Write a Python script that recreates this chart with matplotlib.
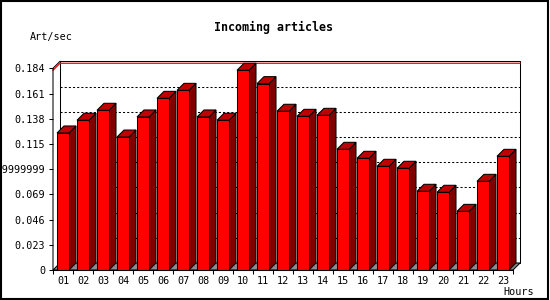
import matplotlib
matplotlib.use("Agg")
import matplotlib.pyplot as plt
from matplotlib.patches import Rectangle

# ---- data ----
hours = ["01", "02", "03", "04", "05", "06", "07", "08", "09", "10", "11", "12",
         "13", "14", "15", "16", "17", "18", "19", "20", "21", "22", "23"]
art_per_sec = [0.125, 0.1366, 0.1457, 0.1213, 0.1396, 0.1566, 0.1639, 0.1396,
               0.1366, 0.1822, 0.170, 0.1448, 0.1402, 0.1411, 0.1101, 0.1019,
               0.0946, 0.0928, 0.0718, 0.0709, 0.0535, 0.0809, 0.1037]
y_ticks = [0, 0.023, 0.046, 0.069, 0.092, 0.115, 0.138, 0.161, 0.184]
y_tick_labels = ["0", "0.023", "0.046", "0.069", "0.09199999999", "0.115",
                 "0.138", "0.161", "0.184"]
title = "Incoming articles"
y_title = "Art/sec"
x_title = "Hours"

# ---- layout ----
W, H = 550, 300
fig = plt.figure(figsize=(W / 100, H / 100), dpi=100)
fig.patch.set_facecolor("white")

n = len(hours)
ymax = y_ticks[-1]
px_per_slot = 20.0
px_per_unit = 201.7 / ymax
depth_px = 7.0
dx = depth_px / px_per_slot
dy = depth_px / px_per_unit

x0_px, y0_px = 53, 270
ax_w_px = (n + dx) * px_per_slot
ax_h_px = (ymax + dy) * px_per_unit
ax = fig.add_axes([x0_px / W, (H - y0_px) / H, ax_w_px / W, ax_h_px / H])
ax.set_xlim(0, n + dx)
ax.set_ylim(0, ymax + dy)
ax.set_facecolor("none")
for s in ax.spines.values():
    s.set_visible(False)

lw = 0.75
mono = "DejaVu Sans Mono"

# back panel
ax.fill([dx, n + dx, n + dx, dx], [dy, dy, ymax + dy, ymax + dy],
        facecolor="white", edgecolor="black", lw=lw, zorder=1, clip_on=False)
# grid lines on back panel
for t in y_ticks[1:-1]:
    ax.plot([dx, n + dx], [t + dy, t + dy], color="black", lw=0.75,
            linestyle=(0, (2, 2)), zorder=2, clip_on=False)
# max value line
vmax = max(art_per_sec)
ax.plot([0, dx, n + dx], [vmax, vmax + dy, vmax + dy], color="red", lw=0.9,
        zorder=2.5, clip_on=False)
# floor
ax.fill([0, n, n + dx, dx], [0, 0, dy, dy], facecolor="#8c8c8c",
        edgecolor="black", lw=lw, zorder=3, clip_on=False)
# left front axis and top diagonal
ax.plot([0, 0, dx], [0, ymax, ymax + dy], color="black", lw=lw, zorder=6,
        clip_on=False)
ax.plot([0, n], [0, 0], color="black", lw=lw, zorder=6, clip_on=False)

# bars
bw0, bw1 = 0.2, 0.8
for i, v in enumerate(art_per_sec):
    xl, xr = i + bw0, i + bw1
    # side
    ax.fill([xr, xr + dx, xr + dx, xr], [0, dy, v + dy, v],
            facecolor="#800000", edgecolor="black", lw=lw, zorder=4,
            clip_on=False)
    # top
    ax.fill([xl, xr, xr + dx, xl + dx], [v, v, v + dy, v + dy],
            facecolor="#c00000", edgecolor="black", lw=lw, zorder=4,
            clip_on=False)
    # front
    ax.fill([xl, xr, xr, xl], [0, 0, v, v], facecolor="#ff0000",
            edgecolor="black", lw=lw, zorder=5, clip_on=False)

# ticks
ax.set_yticks(y_ticks)
ax.set_yticklabels(y_tick_labels)
ax.set_xticks(range(n + 1))
ax.set_xticklabels([])
ax.set_xticks([i + 0.5 for i in range(n)], minor=True)
ax.set_xticklabels(hours, minor=True)
ax.tick_params(axis="y", direction="out", length=3, width=lw, pad=2.5,
               labelsize=7.3)
ax.tick_params(axis="x", which="major", direction="out", length=3, width=lw)
ax.tick_params(axis="x", which="minor", length=0, pad=4.5, labelsize=7.3)
for lab in ax.get_yticklabels() + ax.get_xticklabels(minor=True):
    lab.set_fontfamily(mono)

# texts
fig.text(274 / W, 1 - 27 / H, title, ha="center", va="center",
         fontsize=8.4, fontweight="bold", family=mono)
fig.text(30 / W, 1 - 37 / H, y_title, ha="left", va="center",
         fontsize=7.3, family=mono)
fig.text(534 / W, 1 - 292 / H, x_title, ha="right", va="center",
         fontsize=7.3, family=mono)

# outer frame
fig.patches.append(Rectangle((0.001, 0.002), 0.996, 0.994,
                             transform=fig.transFigure, fill=False,
                             edgecolor="black", lw=1.5))

fig.savefig("out.png", dpi=100)
